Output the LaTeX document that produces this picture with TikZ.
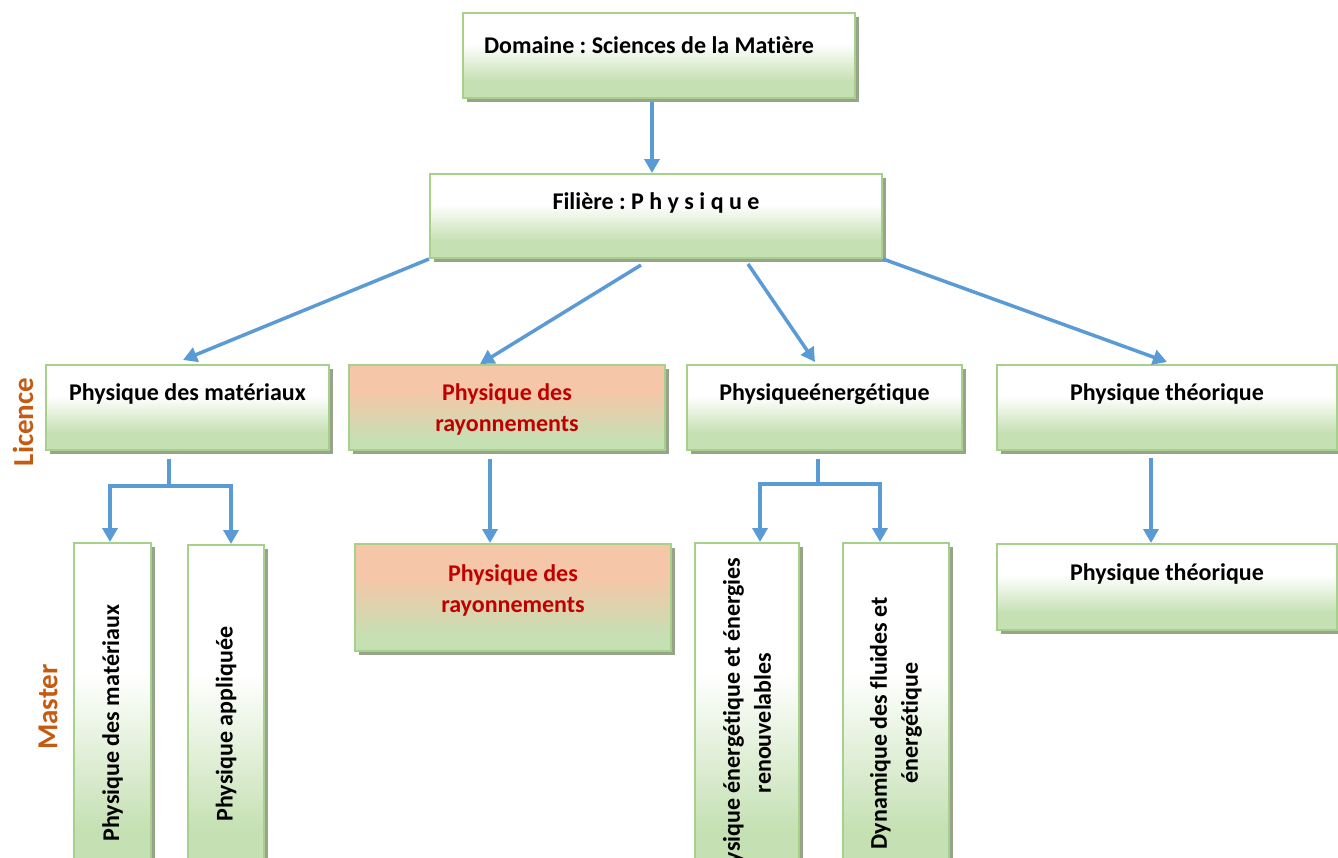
\documentclass[tikz,border=0pt]{standalone}
\usepackage{fontspec}
\setmainfont{Carlito}[Ligatures=CommonOff]
\usepackage{tikz}
\usetikzlibrary{arrows.meta}
\usetikzlibrary{positioning}
\usetikzlibrary{shadows}
\frenchspacing
\definecolor{boxgreen}{HTML}{C5E0B3}
\definecolor{boxline}{HTML}{A8D08D}
\definecolor{boxshadow}{HTML}{98A48A}
\definecolor{boxpeach}{HTML}{F6C6A8}
\definecolor{txtred}{HTML}{C00000}
\definecolor{lvlorange}{HTML}{C55A11}
\definecolor{linkblue}{HTML}{5B9BD5}
\pgfdeclareverticalshading{greenfade}{100bp}{color(0bp)=(boxgreen); color(25bp)=(boxgreen); color(35bp)=(boxgreen); color(57bp)=(white); color(100bp)=(white)}
\pgfdeclareverticalshading{peachfade}{100bp}{color(0bp)=(boxgreen); color(25bp)=(boxgreen); color(31bp)=(boxgreen); color(60bp)=(boxpeach); color(100bp)=(boxpeach)}

\begin{document}
\begin{tikzpicture}[x=0.5pt,y=-0.5pt,>={Triangle[length=7pt,width=7.5pt]},
			font=\fontsize{12}{15.5}\selectfont\bfseries,
			box/.style={draw=boxline,line width=1pt,shade,shading=greenfade,inner sep=0pt,
				drop shadow={shadow xshift=2pt,shadow yshift=-2pt,fill=boxshadow,opacity=1}},
			peachbox/.style={box,shading=peachfade},
			txt/.style={inner sep=0pt,align=center},
			redtxt/.style={txt,text=txtred},
			vtxt/.style={txt,rotate=90},
			level/.style={inner sep=0pt,text=lvlorange,font=\fontsize{14.5}{17}\selectfont\bfseries,rotate=90},
			link/.style={draw=linkblue,line width=1.75pt},
			arrow/.style={link,->}]
			\useasboundingbox (0,0) rectangle (1338,857);
			\clip (0,0) rectangle (1338,857);
			
			% boxes
			\node[box,minimum width=196pt,minimum height=42.5pt] (dom) at (659,55.5) {};
			\node[box,minimum width=226pt,minimum height=42pt]   (fil) at (656,216) {};
			\node[box,minimum width=141.5pt,minimum height=42.5pt]    (L1) at (187.5,407.5) {};
			\node[peachbox,minimum width=158pt,minimum height=42.5pt] (L2) at (507,407.5) {};
			\node[box,minimum width=137.5pt,minimum height=42.5pt]    (L3) at (824.5,407.5) {};
			\node[box,minimum width=170pt,minimum height=42.5pt]      (L4) at (1167,407.5) {};
			\node[box,minimum width=38.5pt,minimum height=180pt]      (M1) at (112.5,723) {};
			\node[box,minimum width=38pt,minimum height=179pt]        (M2) at (226,724) {};
			\node[peachbox,minimum width=158pt,minimum height=53.5pt] (M3) at (513,597.5) {};
			\node[box,minimum width=52pt,minimum height=180pt]        (M4) at (747,723) {};
			\node[box,minimum width=53pt,minimum height=180pt]        (M5) at (896,723) {};
			\node[box,minimum width=170pt,minimum height=43pt]        (M6) at (1167,587) {};
			
			% texts
			\node[txt,below=12pt of dom.north,xshift=-5pt] (domt) {Domaine : Sciences de la Matière};
			\node[txt,below=9.5pt of fil.north] (filt) {Filière : P h y s i q u e};
			\node[txt,below=9.5pt of L1.north]    (L1t) {Physique des matériaux};
			\node[redtxt,below=9.5pt of L2.north] (L2t) {Physique des\\rayonnements};
			\node[txt,below=9.5pt of L3.north]    (L3t) {Physiqueénergétique};
			\node[txt,below=9.5pt of L4.north]    (L4t) {Physique théorique};
			\node[vtxt] (M1t) at (M1) {Physique des matériaux};
			\node[vtxt] (M2t) at (M2) {Physique appliquée};
			\node[redtxt,below=10.5pt of M3.north] (M3t) {Physique des\\rayonnements};
			\node[vtxt] (M4t) at (M4) {Physique énergétique et énergies\\renouvelables};
			\node[vtxt] (M5t) at (M5) {Dynamique des fluides et\\énergétique};
			\node[txt,below=10pt of M6.north]     (M6t) {Physique théorique};
			
			\node[level] (lic) at (23,422) {Licence};
			\node[level] (mas) at (48,707) {Master};
			
			% connectors
			\draw[arrow] ([xshift=-3.5pt,yshift=-1.5pt]dom.south) -- ([xshift=-3.5pt]dom.south |- fil.north);
			\draw[arrow] (fil.south west) -- ([xshift=-2.25pt,yshift=2pt]L1.north);
			\draw[arrow] ([xshift=-7.5pt,yshift=-3pt]fil.south) -- ([xshift=-13.5pt]L2.north);
			\draw[arrow] ([xshift=46pt,yshift=-2.5pt]fil.south) -- ([xshift=-4.75pt,yshift=1pt]L3.north);
			\draw[arrow] (fil.south east) -- ([yshift=1pt]L4.north);
			
			\coordinate (s1) at ([xshift=-9.25pt,yshift=-17.5pt]L1.south);
			\draw[link] ([xshift=-9.25pt,yshift=-4pt]L1.south) -- (s1);
			\draw[arrow] (s1) -| ([xshift=-1.25pt]M1.north);
			\draw[arrow] (s1) -| ([xshift=2.5pt]M2.north);
			\draw[arrow] ([xshift=-8.5pt,yshift=-4pt]L2.south) -- ([xshift=-8.5pt]L2.south |- M3.north);
			\coordinate (s3) at ([xshift=-3.25pt,yshift=-16.5pt]L3.south);
			\draw[link] ([xshift=-3.25pt,yshift=-4pt]L3.south) -- (s3);
			\draw[arrow] (s3) -| ([xshift=6.5pt]M4.north);
			\draw[arrow] (s3) -| ([xshift=-8pt]M5.north);
			\draw[arrow] ([xshift=-8pt,yshift=-3.5pt]L4.south) -- ([xshift=-8pt]L4.south |- M6.north);
\end{tikzpicture}
\end{document}
